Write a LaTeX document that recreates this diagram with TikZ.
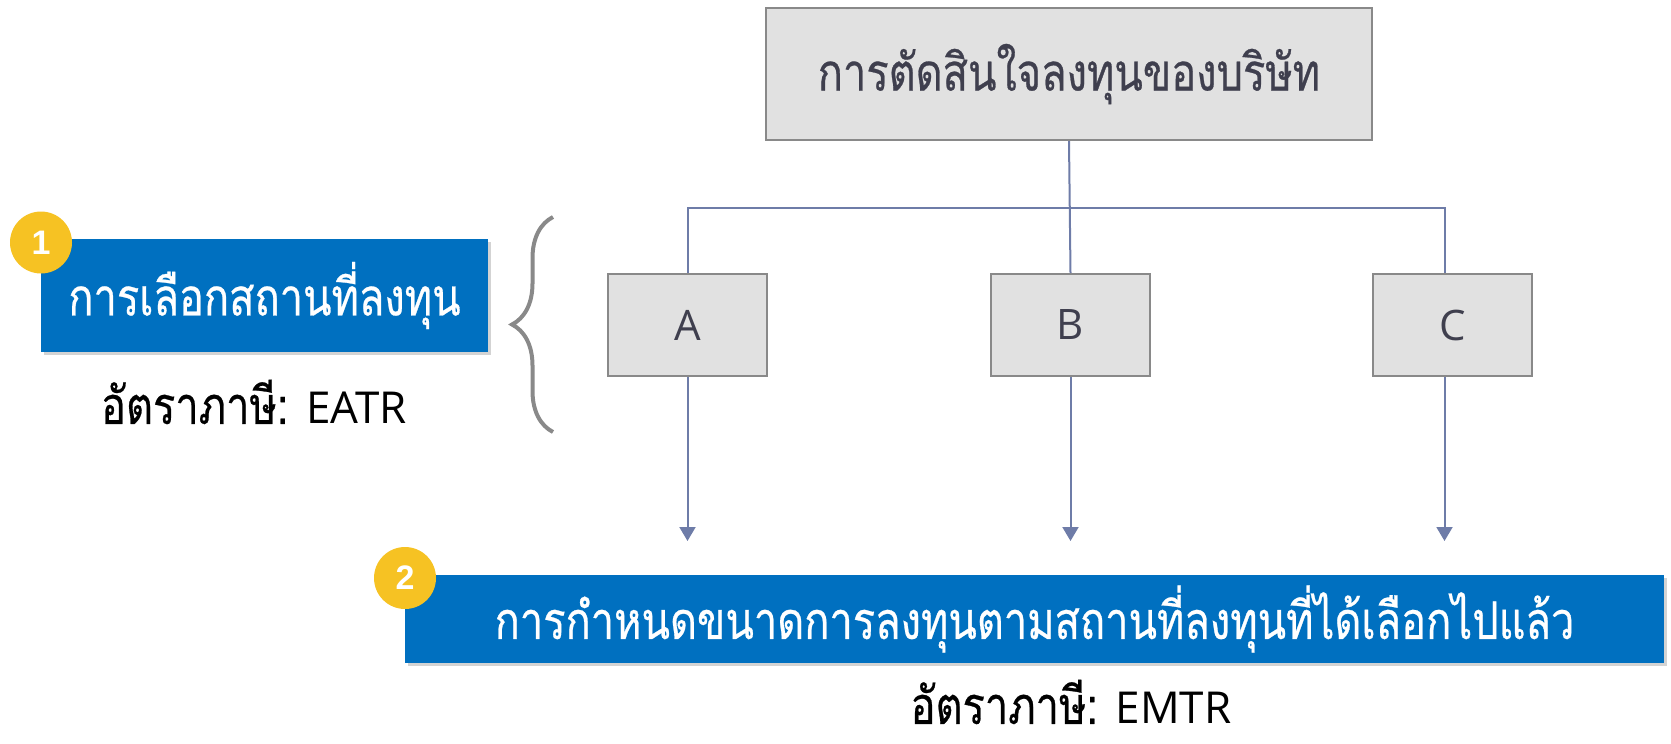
\documentclass[tikz,border=0pt]{standalone}
\usepackage{fontspec}
\newfontfamily\thaifont[Script=Thai,FakeStretch=0.8,FakeBold=0.5]{Loma}
\newfontfamily\latinfont{Open Sans}
\newfontfamily\badgefont{Liberation Sans}
\usetikzlibrary{arrows.meta,shadows,decorations.pathreplacing}
\definecolor{boxblue}{HTML}{0070C0}
\definecolor{badgeyellow}{HTML}{F6C223}
\definecolor{boxgray}{HTML}{E1E1E1}
\definecolor{edgegray}{HTML}{898989}
\definecolor{linkblue}{HTML}{6E7CA8}
\definecolor{textgray}{HTML}{3F3F4E}
\tikzset{
  graybox/.style={draw=edgegray, line width=1pt, fill=boxgray, text=textgray, inner sep=0pt},
  bluebox/.style={fill=boxblue, text=white, inner sep=0pt,
    drop shadow={opacity=0.35, shadow xshift=1.5pt, shadow yshift=-1.5pt}},
  badge/.style={circle, fill=badgeyellow, text=white, minimum size=31pt, inner sep=0pt,
    font=\badgefont\bfseries\fontsize{17}{17}\selectfont},
  link/.style={draw=linkblue, line width=1pt},
}
\begin{document}
\begin{tikzpicture}[x=0.5pt,y=-0.5pt]
  \useasboundingbox (0,0) rectangle (1671,744);
  % decision tree
  \node[graybox, minimum width=303pt, minimum height=66pt, font=\thaifont\fontsize{26}{30}\selectfont]
    (top) at (1069,74) {การตัดสินใจลงทุนของบริษัท};
  \foreach \n/\xx in {A/687.5,B/1070.5,C/1452.5} {
    \node[graybox, minimum width=79.5pt, minimum height=51pt, font=\latinfont\fontsize{21}{24}\selectfont]
      (\n) at (\xx,325) {\n};
  }
  \coordinate (bus) at (1071,208);
  \coordinate (tips) at (0,541);
  \draw[link] (top.south) -- (B.north);
  \draw[link] (A.north) |- (bus) -| ([xshift=-4pt]C.north);
  \foreach \n/\dx in {A/0,B/0,C/-4} {
    \draw[link, -{Triangle[width=8pt,length=7pt]}] ([xshift=\dx pt]\n.south) -- ([xshift=\dx pt]\n.south |- tips);
  }
  % step 1
  \node[bluebox, minimum width=223.5pt, minimum height=56.5pt, font=\thaifont\fontsize{26}{30}\selectfont]
    (sel) at (264.5,295.5) {การเลือกสถานที่ลงทุน};
  \node[badge] (b1) at (41,242.5) {1};
  \node[font=\fontsize{22}{26}\selectfont] (eatr) at (254,402) {{\thaifont\fontsize{26}{30}\selectfont อัตราภาษี:} {\latinfont EATR}};
  \draw[edgegray, line width=2pt, decorate, decoration={brace, amplitude=20.5pt}]
    (553,432) -- (553,217);
  % step 2
  \node[bluebox, minimum width=629.5pt, minimum height=44pt, font=\thaifont\fontsize{26}{30}\selectfont]
    (size) at (1034.5,619) {การกำหนดขนาดการลงทุนตามสถานที่ลงทุนที่ได้เลือกไปแล้ว};
  \node[badge] (b2) at (405,578) {2};
  \node[font=\fontsize{22}{26}\selectfont] (emtr) at (1071,702) {{\thaifont\fontsize{26}{30}\selectfont อัตราภาษี:} {\latinfont EMTR}};
\end{tikzpicture}
\end{document}
